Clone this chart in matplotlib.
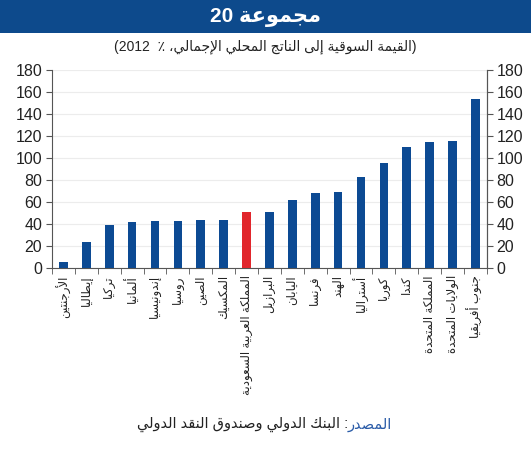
import numpy as np
import matplotlib
matplotlib.use('Agg')
import matplotlib.pyplot as plt
from matplotlib.patches import Rectangle

# data
countries = ['الأرجنتين', 'إيطاليا', 'تركيا', 'ألمانيا', 'إندونيسيا', 'روسيا',
             'الصين', 'المكسيك', 'المملكة العربية السعودية', 'البرازيل', 'اليابان',
             'فرنسا', 'الهند', 'أستراليا', 'كوريا', 'كندا', 'المملكة المتحدة',
             'الولايات المتحدة', 'جنوب أفريقيا']
values = [6, 24, 39, 42, 43, 43, 44, 44, 51, 51, 62, 68, 69, 83, 96, 110, 115, 115.5, 154]
highlight = 'المملكة العربية السعودية'
yticks = [0, 20, 40, 60, 80, 100, 120, 140, 160, 180]

title = 'مجموعة'
title_num = '20'
subtitle = 'القيمة السوقية إلى الناتج المحلي الإجمالي،'
subtitle_unit = '٪'
subtitle_year = '2012'
source_label = 'المصدر'
source_text = 'البنك الدولي وصندوق النقد الدولي'

# Arabic shaping (matplotlib has no shaping/bidi of its own)
DUAL = {0x626: 0xFE89, 0x628: 0xFE8F, 0x62A: 0xFE95, 0x62B: 0xFE99, 0x62C: 0xFE9D,
        0x62D: 0xFEA1, 0x62E: 0xFEA5, 0x633: 0xFEB1, 0x634: 0xFEB5, 0x635: 0xFEB9,
        0x636: 0xFEBD, 0x637: 0xFEC1, 0x638: 0xFEC5, 0x639: 0xFEC9, 0x63A: 0xFECD,
        0x641: 0xFED1, 0x642: 0xFED5, 0x643: 0xFED9, 0x644: 0xFEDD, 0x645: 0xFEE1,
        0x646: 0xFEE5, 0x647: 0xFEE9, 0x64A: 0xFEF1}
RIGHT = {0x622: 0xFE81, 0x623: 0xFE83, 0x624: 0xFE85, 0x625: 0xFE87, 0x627: 0xFE8D,
         0x629: 0xFE93, 0x62F: 0xFEA9, 0x630: 0xFEAB, 0x631: 0xFEAD, 0x632: 0xFEAF,
         0x648: 0xFEED, 0x649: 0xFEEF}
LAMALEF = {0x622: 0xFEF5, 0x623: 0xFEF7, 0x625: 0xFEF9, 0x627: 0xFEFB}


def shape(s):
    toks = []
    i = 0
    while i < len(s):
        c = ord(s[i])
        if c == 0x644 and i + 1 < len(s) and ord(s[i + 1]) in LAMALEF:
            toks.append(('LA', ord(s[i + 1])))
            i += 2
        else:
            toks.append(('C', c))
            i += 1

    def joins_next(t):
        return t[0] == 'C' and t[1] in DUAL

    def joins_prev(t):
        return t[0] == 'LA' or t[1] in DUAL or t[1] in RIGHT

    out = []
    for k, t in enumerate(toks):
        p = k > 0 and joins_next(toks[k - 1]) and joins_prev(t)
        n = k + 1 < len(toks) and joins_next(t) and joins_prev(toks[k + 1])
        kind, c = t
        if kind == 'LA':
            out.append(chr(LAMALEF[c] + (1 if p else 0)))
        elif c in DUAL:
            out.append(chr(DUAL[c] + (3 if p and n else 2 if n else 1 if p else 0)))
        elif c in RIGHT:
            out.append(chr(RIGHT[c] + (1 if p else 0)))
        elif c == 0x621:
            out.append('\uFE80')
        else:
            out.append(chr(c))
    return ''.join(out)


def ar(s):
    return shape(s)[::-1]


FONT = ['Liberation Sans', 'DejaVu Sans']
plt.rcParams['font.family'] = FONT

BLUE = '#0c4a93'
RED = '#e1262c'

fig = plt.figure(figsize=(5.31, 4.5), dpi=100)
fig.patch.set_facecolor('white')

# title band
fig.patches.append(Rectangle((0, 0.927), 1, 0.073, transform=fig.transFigure,
                             facecolor='#0d4a8c', edgecolor='none', zorder=0))
fig.text(0.5, 0.962, title_num + ' ' + ar(title), ha='center', va='center',
         color='white', fontsize=15, fontweight='bold')
fig.text(0.5, 0.897, '(' + subtitle_year + '  ' + subtitle_unit + ' ' + ar(subtitle) + ')',
         ha='center', va='center', color='#222222', fontsize=10)

ax = fig.add_axes([0.098, 0.404, 0.819, 0.44])
x = np.arange(len(countries))
colors = [RED if c == highlight else BLUE for c in countries]
ax.bar(x, values, width=0.38, color=colors, zorder=3)

ax.set_xlim(-0.5, len(countries) - 0.5)
ax.set_ylim(0, 180)
ax.set_yticks(yticks)
ax.grid(axis='y', color='#ececec', linewidth=0.8, zorder=0)
ax.set_xticks(x)
ax.set_xticklabels([ar(c) for c in countries], rotation=90, fontsize=8.5,
                   va='top', ha='center', color='#222222')
ax.tick_params(axis='x', length=0, pad=5)
ax.set_xticks(np.arange(len(countries) + 1) - 0.5, minor=True)
ax.tick_params(axis='x', which='minor', length=4, color='#555555')
ax.tick_params(axis='y', length=4, color='#555555', labelsize=11.5,
               labelcolor='#222222', pad=3)
for side in ['left', 'right', 'bottom']:
    ax.spines[side].set_color('#555555')
ax.spines['top'].set_visible(False)

ax2 = ax.twinx()
ax2.set_ylim(0, 180)
ax2.set_yticks(yticks)
ax2.tick_params(axis='y', length=4, color='#555555', labelsize=11.5,
                labelcolor='#222222', pad=3)
ax2.spines['top'].set_visible(False)
ax2.spines['right'].set_color('#555555')
ax2.spines['left'].set_visible(False)
ax2.spines['bottom'].set_visible(False)

# source line
xm = 0.655
fig.text(xm, 0.056, ar(source_text) + ' :', ha='right', va='center',
         color='#222222', fontsize=10.5)
fig.text(xm, 0.056, ar(source_label), ha='left', va='center',
         color='#2b5ca8', fontsize=10.5)

fig.savefig('out.png', dpi=100, facecolor='white')
